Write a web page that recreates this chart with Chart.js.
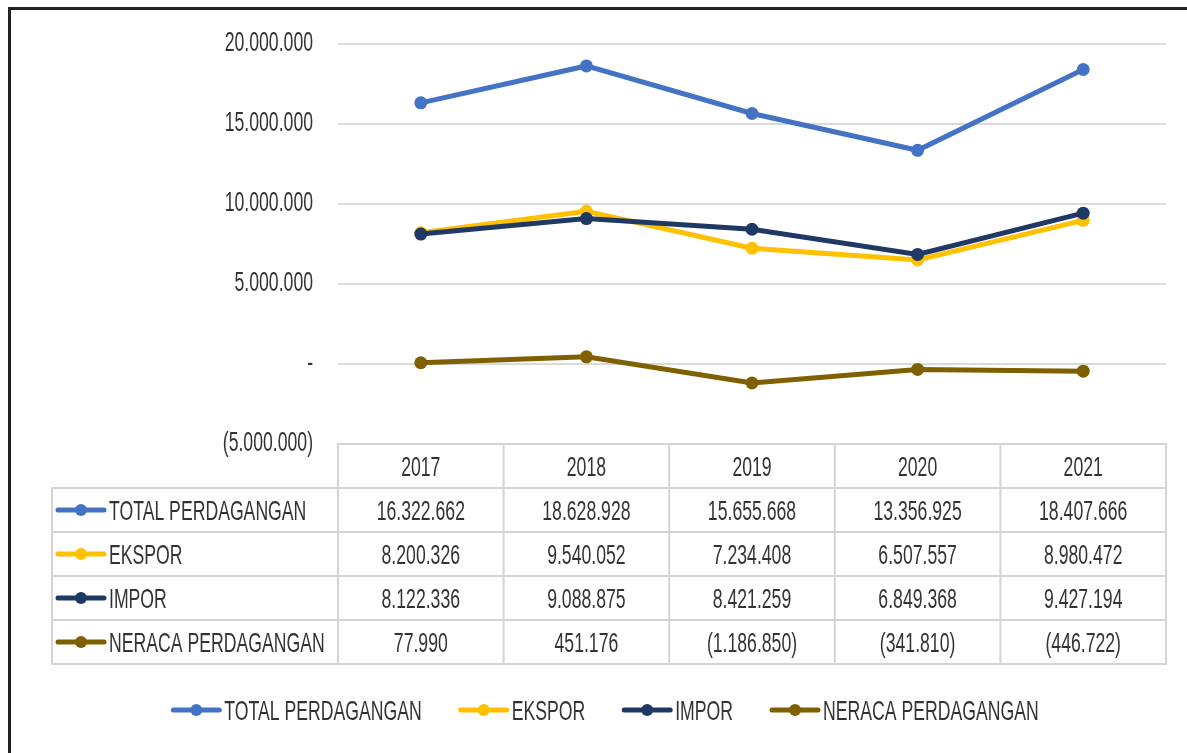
<!DOCTYPE html>
<html>
<head>
<meta charset="utf-8">
<script src="https://cdn.jsdelivr.net/npm/chart.js@4/dist/chart.umd.min.js"></script>
<style>
  html, body { margin: 0; padding: 0; background: #fff; }
  #wrap { width: 1187px; height: 753px; }
</style>
</head>
<body>
<div id="wrap"><canvas id="chart" width="1187" height="753"></canvas></div>
<script>
// data
const years = ['2017', '2018', '2019', '2020', '2021'];
const totalPerdagangan = [16322662, 18628928, 15655668, 13356925, 18407666];
const ekspor = [8200326, 9540052, 7234408, 6507557, 8980472];
const impor = [8122336, 9088875, 8421259, 6849368, 9427194];
const neraca = [77990, 451176, -1186850, -341810, -446722];
const seriesNames = ['TOTAL PERDAGANGAN', 'EKSPOR', 'IMPOR', 'NERACA PERDAGANGAN'];
const seriesColors = ['#4472C4', '#FFC000', '#1F3864', '#7F6000'];
const yTicks = [-5000000, 0, 5000000, 10000000, 15000000, 20000000];

const TEXT = '#333';
const FONT_PX = 28;
const SX = 0.63;          // condensed look of the original font
const CAP = 0.716 * FONT_PX;

function fmt(v) {
  if (v === 0) return '-';
  const s = Math.abs(v).toString().replace(/\B(?=(\d{3})+(?!\d))/g, '.');
  return v < 0 ? '(' + s + ')' : s;
}

function text(ctx, str, x, cy, align) {
  ctx.save();
  ctx.font = FONT_PX + 'px "Liberation Sans", Arial, sans-serif';
  ctx.fillStyle = TEXT;
  ctx.textAlign = align || 'left';
  ctx.textBaseline = 'alphabetic';
  ctx.translate(x, cy + CAP / 2);
  ctx.scale(SX, 1);
  ctx.fillText(str, 0, 0);
  ctx.restore();
}

function textWidth(ctx, str) {
  ctx.save();
  ctx.font = FONT_PX + 'px "Liberation Sans", Arial, sans-serif';
  const w = ctx.measureText(str).width * SX;
  ctx.restore();
  return w;
}

function legendKey(ctx, x, cy, color) {
  ctx.save();
  ctx.strokeStyle = color;
  ctx.lineWidth = 5;
  ctx.lineCap = 'round';
  ctx.beginPath();
  ctx.moveTo(x + 2, cy);
  ctx.lineTo(x + 48, cy);
  ctx.stroke();
  ctx.fillStyle = color;
  ctx.beginPath();
  ctx.arc(x + 25, cy, 6, 0, Math.PI * 2);
  ctx.fill();
  ctx.restore();
}

const tablePlugin = {
  id: 'dataTable',
  beforeDraw(chart) {
    const ctx = chart.ctx;
    // outer frame (left + top edges only are visible)
    ctx.save();
    ctx.strokeStyle = '#222';
    ctx.lineWidth = 3;
    ctx.beginPath();
    ctx.moveTo(9.5, chart.height);
    ctx.lineTo(9.5, 8.5);
    ctx.lineTo(chart.width, 8.5);
    ctx.stroke();
    ctx.restore();
  },
  afterDraw(chart) {
    const ctx = chart.ctx;
    const x = chart.scales.x, y = chart.scales.y;
    const area = chart.chartArea;

    // y tick labels
    yTicks.forEach(v => text(ctx, fmt(v), area.left - 25, y.getPixelForValue(v) - 3, 'right'));

    // data table under the plot
    const rowH = 44;
    const top = area.bottom;
    const labelLeft = 52;
    const colW = (area.right - area.left) / years.length;
    const series = [totalPerdagangan, ekspor, impor, neraca];

    ctx.save();
    ctx.strokeStyle = '#d4d4d4';
    ctx.lineWidth = 2;
    // header row
    ctx.strokeRect(area.left, top, area.right - area.left, rowH);
    for (let r = 0; r < series.length; r++) {
      ctx.strokeRect(labelLeft, top + rowH * (r + 1), area.right - labelLeft, rowH);
    }
    ctx.beginPath();
    for (let i = 0; i <= years.length; i++) {
      const cx = area.left + colW * i;
      ctx.moveTo(cx, top);
      ctx.lineTo(cx, top + rowH * (series.length + 1));
    }
    ctx.moveTo(labelLeft, top + rowH);
    ctx.lineTo(labelLeft, top + rowH * (series.length + 1));
    ctx.stroke();
    ctx.restore();

    years.forEach((yr, i) => text(ctx, yr, x.getPixelForValue(i), top + rowH / 2, 'center'));
    series.forEach((vals, r) => {
      const cy = top + rowH * (r + 1) + rowH / 2;
      legendKey(ctx, labelLeft + 4, cy, seriesColors[r]);
      text(ctx, seriesNames[r], labelLeft + 57, cy, 'left');
      vals.forEach((v, i) => text(ctx, fmt(v), x.getPixelForValue(i), cy, 'center'));
    });

    // bottom legend
    const gap = 37, keyW = 53;
    const widths = seriesNames.map(n => keyW + textWidth(ctx, n));
    const totalW = widths.reduce((a, b) => a + b, 0) + gap * (widths.length - 1);
    let lx = 605 - totalW / 2;
    const ly = 710;
    seriesNames.forEach((n, i) => {
      legendKey(ctx, lx, ly, seriesColors[i]);
      text(ctx, n, lx + keyW, ly, 'left');
      lx += widths[i] + gap;
    });
  }
};

const dsOrder = [3, 2, 1, 4];
new Chart(document.getElementById('chart'), {
  type: 'line',
  data: {
    labels: years,
    datasets: [totalPerdagangan, ekspor, impor, neraca].map((d, i) => ({
      label: seriesNames[i],
      data: d,
      borderColor: seriesColors[i],
      backgroundColor: seriesColors[i],
      borderWidth: 5,
      pointRadius: 6.5,
      pointBorderWidth: 0,
      tension: 0,
      order: dsOrder[i]
    }))
  },
  options: {
    responsive: false,
    animation: false,
    layout: { padding: { left: 0, top: 44, right: 21, bottom: 309 } },
    plugins: { legend: { display: false }, tooltip: { enabled: false } },
    scales: {
      x: { type: 'category', display: false, offset: true },
      y: {
        min: -5000000,
        max: 20000000,
        ticks: { display: false, stepSize: 5000000 },
        border: { display: false },
        grid: { color: '#d9d9d9', lineWidth: 2, drawTicks: false },
        afterFit(scale) { scale.width = 338; }
      }
    }
  },
  plugins: [tablePlugin]
});
</script>
</body>
</html>
